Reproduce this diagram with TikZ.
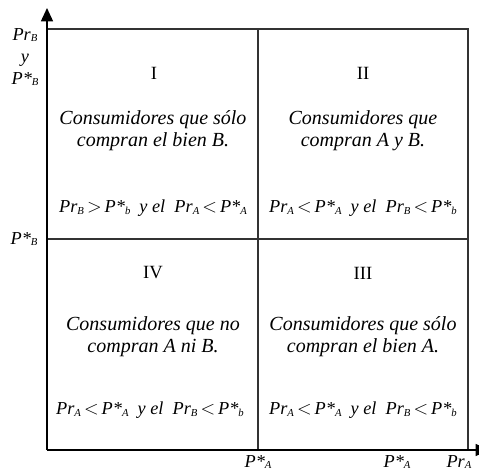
\documentclass[tikz,border=0pt]{standalone}
\usepackage{fontspec}
\setmainfont{Liberation Serif}
\usetikzlibrary{arrows.meta, positioning}

\newcommand{\subidx}[1]{\raisebox{-0.2ex}{\fontsize{8}{8}\selectfont\itshape #1}}
\newcommand{\cond}[4]{\textit{Pr}\subidx{#1}\,#2\,\textit{P*}\subidx{#3}\ \ \textit{y el}\ \ #4}

\begin{document}
\begin{tikzpicture}[
                x=0.75pt, y=-0.75pt,
                every node/.style={font=\fontsize{13.7}{16.5}\selectfont},
                body/.style={align=center, font=\fontsize{15}{16.5}\selectfont\itshape},
                roman/.style={font=\fontsize{14}{16.5}\selectfont},
                axis/.style={line width=1.1pt, -{Triangle[width=9pt, length=10pt]}},
                grid/.style={line width=0.8pt, black!80}
            ]

            \useasboundingbox (0,0) rectangle (479,471);

            % corners of the square
            \coordinate (O) at (47,450);
            \coordinate (TL) at (47,29);
            \coordinate (TR) at (468,29);
            \coordinate (BR) at (468,450);
            \coordinate (MT) at (258,29);
            \coordinate (MB) at (258,450);
            \coordinate (ML) at (47,239);
            \coordinate (MR) at (468,239);
            \coordinate (Ytop) at (47,8);
            \coordinate (Xend) at (489,450);

            \draw[grid] (TL) -- (TR) -- (BR);
            \draw[grid] (MT) -- (MB);
            \draw[grid] (ML) -- (MR);
            \draw[axis] (O) -- (Ytop);
            \draw[axis] (O) -- (Xend);

            % quadrant I
            \node[roman] (q1) at (154,73) {I};
            \node[body] (t1) at (153,131) {Consumidores que sólo\\compran el bien B.};
            \node (c1) at (153,208) {\cond{B}{$>$}{b}{\textit{Pr}\subidx{A}\,$<$\,\textit{P*}\subidx{A}}};

            % quadrant II
            \node[roman] (q2) at (363,73) {II};
            \node[body] (t2) at (363,131) {Consumidores que\\compran A y B.};
            \node (c2) at (363,208) {\cond{A}{$<$}{A}{\textit{Pr}\subidx{B}\,$<$\,\textit{P*}\subidx{b}}};

            % quadrant IV
            \node[roman] (q4) at (153,273) {IV};
            \node[body] (t4) at (153,337) {Consumidores que no\\compran A ni B.};
            \node (c4) at (150,410) {\cond{A}{$<$}{A}{\textit{Pr}\subidx{B}\,$<$\,\textit{P*}\subidx{b}}};

            % quadrant III
            \node[roman] (q3) at (363,273) {III};
            \node[body] (t3) at (363,337) {Consumidores que sólo\\compran el bien A.};
            \node (c3) at (363,410) {\cond{A}{$<$}{A}{\textit{Pr}\subidx{B}\,$<$\,\textit{P*}\subidx{b}}};

            % axis labels
            \node[align=center] (ylab) at (25,57) {\textit{Pr}\subidx{B}\\\textit{y}\\\textit{P*}\subidx{B}};
            \node (pb) at (24,239) {\textit{P*}\subidx{B}};
            \node (pa1) at (258,462) {\textit{P*}\subidx{A}};
            \node (pa2) at (397,462) {\textit{P*}\subidx{A}};
            \node (pra) at (459,462) {\textit{Pr}\subidx{A}};

        \end{tikzpicture}
\end{document}
